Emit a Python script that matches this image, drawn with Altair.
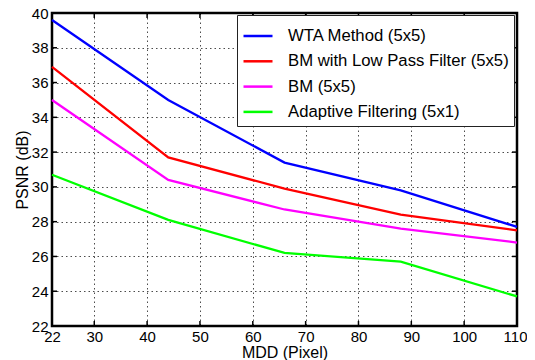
import altair as alt
import pandas as pd

mdd = [22, 44, 66, 88, 110]
wta = [39.6, 35.0, 31.4, 29.8, 27.7]
bm_lpf = [36.9, 31.7, 29.9, 28.4, 27.5]
bm = [35.0, 30.4, 28.7, 27.6, 26.8]
adaptive = [30.7, 28.1, 26.2, 25.7, 23.7]

series_names = ["WTA Method (5x5)", "BM with Low Pass Filter (5x5)", "BM (5x5)", "Adaptive Filtering (5x1)"]
series_colors = ["#0000ff", "#ff0000", "#ff00ff", "#00ff00"]
x_ticks = [22, 30, 40, 50, 60, 70, 80, 90, 100, 110]
y_ticks = [22, 24, 26, 28, 30, 32, 34, 36, 38, 40]

rows = []
for name, vals in zip(series_names, [wta, bm_lpf, bm, adaptive]):
    for x, y in zip(mdd, vals):
        rows.append({"MDD": x, "PSNR": y, "Series": name})
df = pd.DataFrame(rows)

W, H = 465, 313
FONT = "Liberation Sans"

xscale = alt.Scale(domain=[22, 110], nice=False, zero=False)
yscale = alt.Scale(domain=[22, 40], nice=False, zero=False)

xaxis = alt.Axis(values=x_ticks, title="MDD (Pixel)", labelFlush=False,
                 labelOverlap=False, labelPadding=3, titlePadding=0,
                 labelAlign=alt.condition("datum.value == 110", alt.value("right"), alt.value("center")),
                 labelOffset=alt.condition("datum.value == 110", alt.value(10), alt.value(0)))
yaxis = alt.Axis(values=y_ticks, title="PSNR (dB)", labelPadding=4,
                 labelOverlap=False, titlePadding=1)

lines = alt.Chart(df).mark_line(strokeWidth=2.3).encode(
    x=alt.X("MDD:Q", scale=xscale, axis=xaxis, title="MDD (Pixel)"),
    y=alt.Y("PSNR:Q", scale=yscale, axis=yaxis, title="PSNR (dB)"),
    color=alt.Color("Series:N",
                    scale=alt.Scale(domain=series_names, range=series_colors),
                    sort=series_names,
                    legend=alt.Legend(title=None, orient="none", legendX=185, legendY=2,
                                      symbolType="stroke", symbolSize=841,
                                      symbolStrokeWidth=2.5, labelFontSize=16.7,
                                      labelFont=FONT, labelColor="black",
                                      labelOffset=14, rowPadding=0.3,
                                      padding=5, strokeColor="#222",
                                      fillColor="white", labelLimit=400)),
)

xt = pd.DataFrame({"t": x_ticks[1:-1]})
yt = pd.DataFrame({"t": y_ticks[1:-1]})

xb = alt.Chart(xt).mark_rule(color="black", strokeWidth=1.5).encode(
    x=alt.X("t:Q", scale=xscale, axis=xaxis, title="MDD (Pixel)"), y=alt.value(H), y2=alt.value(H - 5))
xtop = alt.Chart(xt).mark_rule(color="black", strokeWidth=1.5).encode(
    x=alt.X("t:Q", scale=xscale, axis=xaxis, title="MDD (Pixel)"), y=alt.value(0), y2=alt.value(5))
yl = alt.Chart(yt).mark_rule(color="black", strokeWidth=1.5).encode(
    y=alt.Y("t:Q", scale=yscale, axis=yaxis, title="PSNR (dB)"), x=alt.value(0), x2=alt.value(5))
yr = alt.Chart(yt).mark_rule(color="black", strokeWidth=1.5).encode(
    y=alt.Y("t:Q", scale=yscale, axis=yaxis, title="PSNR (dB)"), x=alt.value(W), x2=alt.value(W - 5))

chart = alt.layer(lines, xb, xtop, yl, yr).properties(
    width=W, height=H,
    autosize="none",
    padding={"left": 44, "top": 5, "right": 10, "bottom": 36},
).configure_view(
    stroke="black", strokeWidth=2.5
).configure_axis(
    domain=False, ticks=False, grid=True, gridColor="#000", gridDash=[1.5, 3],
    gridOpacity=0.7, gridWidth=1, labelOverlap=False,
    labelFont=FONT, labelFontSize=15, labelColor="black",
    titleFont=FONT, titleFontSize=16, titleFontWeight="normal", titleColor="black",
)

chart.save("out.html", embed_options={"renderer": "svg", "actions": False})
